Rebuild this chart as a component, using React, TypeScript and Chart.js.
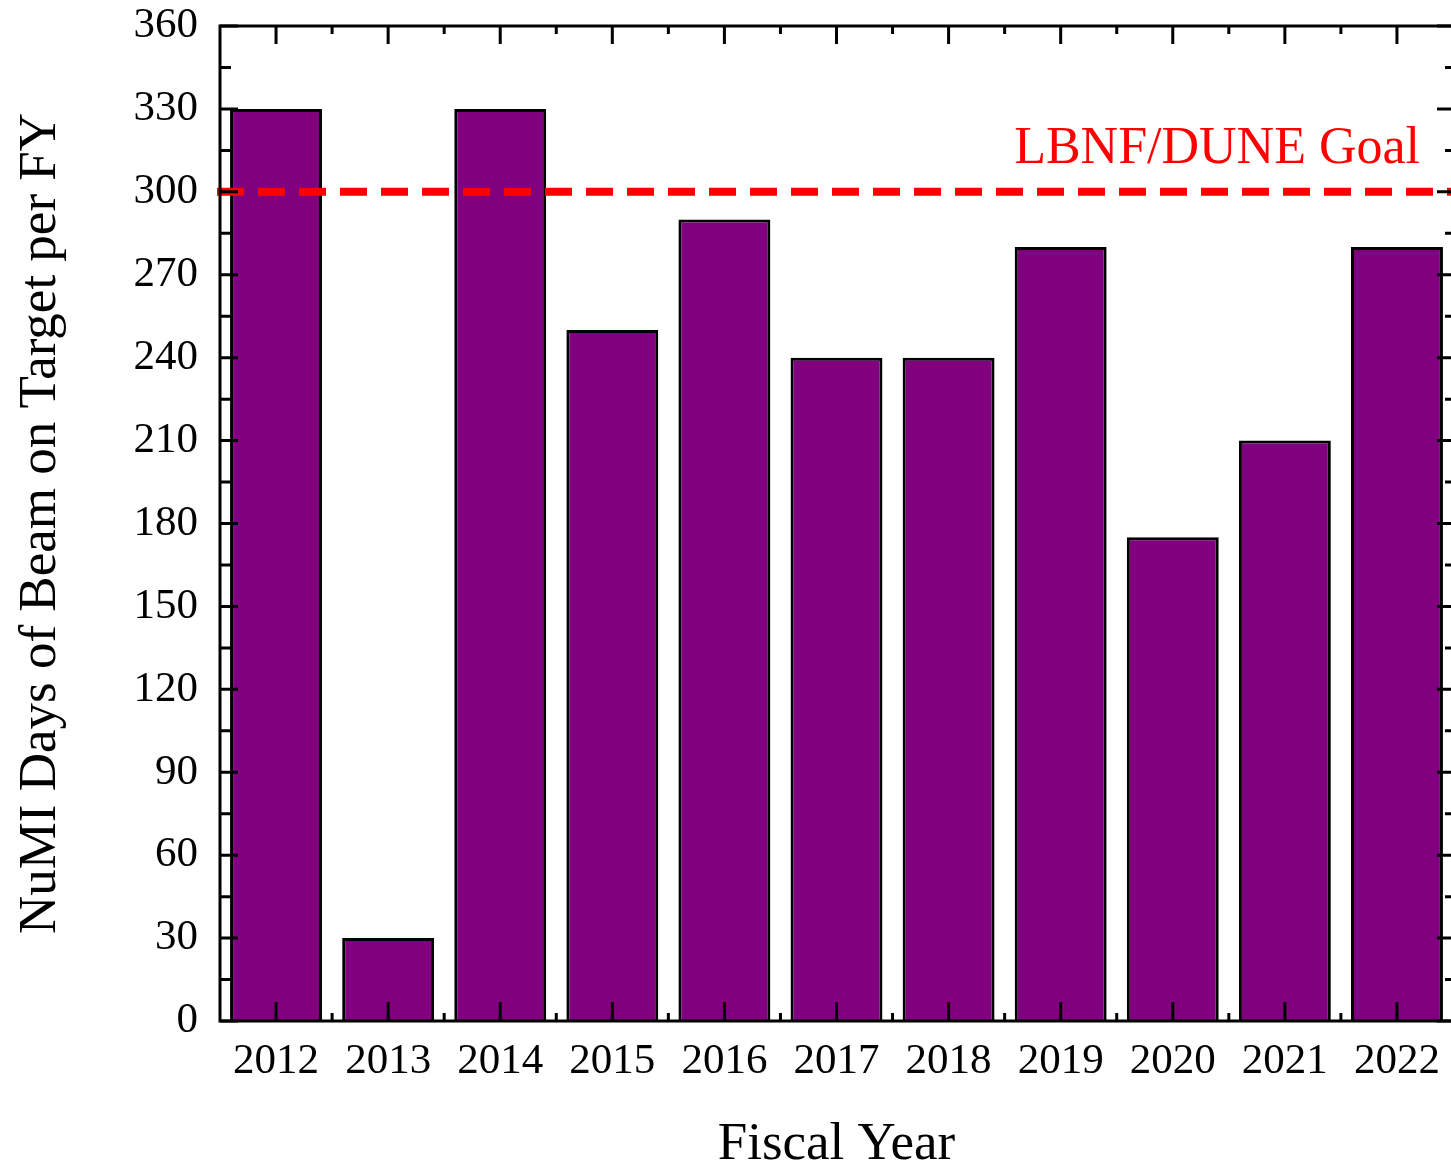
import React, { useEffect, useRef } from "react";
import { Chart, registerables } from "chart.js";

Chart.register(...registerables);

// ---- data ----
const fiscalYears = ["2012", "2013", "2014", "2015", "2016", "2017", "2018", "2019", "2020", "2021", "2022"];
const beamDays = [330, 30, 330, 250, 290, 240, 240, 280, 175, 210, 280];
const goalDays = 300;
const goalLabel = "LBNF/DUNE Goal";
const yMin = 0;
const yMax = 360;
const yStep = 30;
const yMinorStep = 15;
const xTitle = "Fiscal Year";
const yTitle = "NuMI Days of Beam on Target per FY";

const SERIF = '"Liberation Serif", "Times New Roman", serif';

const framePlugin = {
  id: "frameAndGoal",
  afterDatasetsDraw(chart: any) {
    const { ctx, chartArea, scales } = chart;
    const { left, right, top, bottom } = chartArea;
    const x = scales.x;
    const y = scales.y;
    ctx.save();

    // goal dashed line
    const gy = y.getPixelForValue(goalDays);
    ctx.strokeStyle = "#ff0000";
    ctx.lineWidth = 8;
    ctx.setLineDash([27, 14]);
    ctx.beginPath();
    ctx.moveTo(left - 3, gy);
    ctx.lineTo(right, gy);
    ctx.stroke();
    ctx.setLineDash([]);

    // goal label
    ctx.fillStyle = "#ff0000";
    ctx.font = `52px ${SERIF}`;
    ctx.textAlign = "right";
    ctx.textBaseline = "alphabetic";
    ctx.fillText(goalLabel, right - 33, gy - 29);

    // frame
    ctx.strokeStyle = "#000";
    ctx.lineWidth = 3;
    ctx.strokeRect(left, top, right - left, bottom - top);

    // y ticks (left & right)
    ctx.beginPath();
    for (let v = yMin; v <= yMax; v += yMinorStep) {
      const py = y.getPixelForValue(v);
      const major = v % yStep === 0;
      const lenL = major ? 18 : 11;
      const lenR = major ? 16 : 8;
      ctx.moveTo(left, py);
      ctx.lineTo(left + lenL, py);
      ctx.moveTo(right, py);
      ctx.lineTo(right - lenR, py);
    }
    // x ticks (top & bottom)
    const n = fiscalYears.length;
    for (let i = 0; i < n; i++) {
      const cx = x.getPixelForValue(i);
      ctx.moveTo(cx, top);
      ctx.lineTo(cx, top + 18);
      ctx.moveTo(cx, bottom);
      ctx.lineTo(cx, bottom - 19);
    }
    for (let i = 1; i < n; i++) {
      const bx = x.getPixelForValue(i - 0.5);
      ctx.moveTo(bx, top);
      ctx.lineTo(bx, top + 8);
      ctx.moveTo(bx, bottom);
      ctx.lineTo(bx, bottom - 8);
    }
    ctx.stroke();
    ctx.restore();
  },
  afterDraw(chart: any) {
    const { ctx, chartArea } = chart;
    const { left, right, top, bottom } = chartArea;
    ctx.save();
    ctx.fillStyle = "#000";
    ctx.font = `53px ${SERIF}`;
    ctx.textAlign = "center";
    ctx.textBaseline = "alphabetic";
    ctx.fillText(xTitle, (left + right) / 2, 1159);
    ctx.translate(55, (top + bottom) / 2);
    ctx.rotate(-Math.PI / 2);
    ctx.fillText(yTitle, 0, 0);
    ctx.restore();
  },
};

export default function App() {
  const canvasRef = useRef<HTMLCanvasElement | null>(null);

  useEffect(() => {
    const canvas = canvasRef.current;
    if (!canvas) return;
    const chart = new Chart(canvas, {
      type: "bar",
      data: {
        labels: fiscalYears,
        datasets: [
          {
            label: "NuMI days",
            data: beamDays,
            backgroundColor: "#800080",
            borderColor: "#000000",
            borderWidth: 3,
            barPercentage: 0.82,
            categoryPercentage: 1.0,
          },
        ],
      },
      options: {
        responsive: false,
        animation: false,
        devicePixelRatio: 1,
        layout: { padding: { top: 26, right: 7, left: 0, bottom: 0 } },
        plugins: {
          legend: { display: false },
          tooltip: { enabled: false },
          title: { display: false },
        },
        scales: {
          x: {
            type: "category",
            offset: true,
            grid: { display: false, drawTicks: false },
            border: { display: false },
            ticks: {
              color: "#000",
              font: { family: SERIF, size: 43 },
              padding: 15,
              maxRotation: 0,
              autoSkip: false,
            },
            afterFit: (scale: any) => {
              scale.height = 142;
              scale.paddingLeft = 0;
              scale.paddingRight = 0;
            },
          },
          y: {
            min: yMin,
            max: yMax,
            grid: { display: false, drawTicks: false },
            border: { display: false },
            ticks: {
              stepSize: yStep,
              color: "#000",
              font: { family: SERIF, size: 43 },
              padding: 22,
            },
            afterFit: (scale: any) => {
              scale.width = 220;
              scale.paddingTop = 0;
              scale.paddingBottom = 0;
            },
          },
        },
      },
      plugins: [framePlugin],
    });
    return () => chart.destroy();
  }, []);

  return (
    <div
      style={{
        position: "fixed",
        left: 0,
        top: 0,
        width: 1451,
        height: 1163,
        overflow: "hidden",
        background: "#ffffff",
      }}
    >
      <canvas ref={canvasRef} width={1460} height={1163} style={{ display: "block" }} />
    </div>
  );
}
